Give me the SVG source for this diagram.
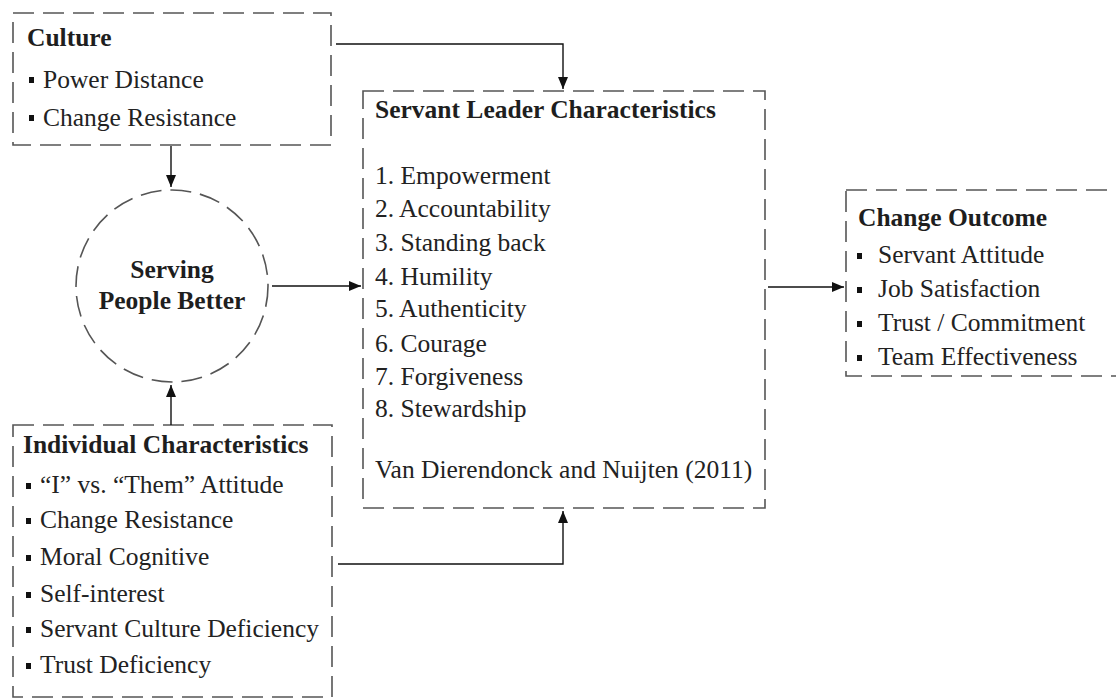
<svg xmlns="http://www.w3.org/2000/svg" width="1116" height="699" viewBox="0 0 1116 699">
  <defs>
    <marker id="arrow" viewBox="0 0 12 10" refX="12" refY="5" markerWidth="12" markerHeight="10" markerUnits="userSpaceOnUse" orient="auto">
      <path d="M0,0 L12,5 L0,10 Z" fill="#111"/>
    </marker>
    <style>
      .box { fill: #fff; stroke: #555; stroke-width: 1.6; stroke-dasharray: 21 9; }
      .title { font-family: "Liberation Serif", "Times New Roman", serif; font-weight: bold; font-size: 25.5px; fill: #1e1e1e; }
      .item { font-family: "Liberation Serif", "Times New Roman", serif; font-size: 25.5px; fill: #222; }
      .bullet { fill: #111; }
      .conn { fill: none; stroke: #111; stroke-width: 1.4; marker-end: url(#arrow); }
    </style>
  </defs>

  <rect width="1116" height="699" fill="#fff"/>

  <!-- Culture -->
  <g id="culture">
    <rect class="box" x="13" y="13" width="318" height="132"/>
    <text class="title" x="27" y="46">Culture</text>
    <rect class="bullet" x="29" y="77" width="5" height="6"/>
    <text class="item" x="43" y="88">Power Distance</text>
    <rect class="bullet" x="29" y="115" width="5" height="6"/>
    <text class="item" x="43" y="126">Change Resistance</text>
  </g>

  <!-- Serving People Better -->
  <g id="serving">
    <circle class="box" cx="172" cy="286" r="96"/>
    <text class="title" x="172" y="278" text-anchor="middle">Serving</text>
    <text class="title" x="172" y="309" text-anchor="middle">People Better</text>
  </g>

  <!-- Individual Characteristics -->
  <g id="individual">
    <rect class="box" x="13" y="425" width="319" height="272"/>
    <text class="title" x="23" y="453">Individual Characteristics</text>
    <rect class="bullet" x="26" y="483" width="5" height="6"/>
    <text class="item" x="40" y="493">“I” vs. “Them” Attitude</text>
    <rect class="bullet" x="26" y="518" width="5" height="6"/>
    <text class="item" x="40" y="528">Change Resistance</text>
    <rect class="bullet" x="26" y="555" width="5" height="6"/>
    <text class="item" x="40" y="565">Moral Cognitive</text>
    <rect class="bullet" x="26" y="592" width="5" height="6"/>
    <text class="item" x="40" y="602">Self-interest</text>
    <rect class="bullet" x="26" y="627" width="5" height="6"/>
    <text class="item" x="40" y="637">Servant Culture Deficiency</text>
    <rect class="bullet" x="26" y="663" width="5" height="6"/>
    <text class="item" x="40" y="673">Trust Deficiency</text>
  </g>

  <!-- Servant Leader Characteristics -->
  <g id="servant-leader">
    <rect class="box" x="363" y="91" width="402" height="417"/>
    <text class="title" x="375" y="118">Servant Leader Characteristics</text>
    <text class="item" x="375" y="184">1. Empowerment</text>
    <text class="item" x="375" y="217">2. Accountability</text>
    <text class="item" x="375" y="251">3. Standing back</text>
    <text class="item" x="375" y="285">4. Humility</text>
    <text class="item" x="375" y="317">5. Authenticity</text>
    <text class="item" x="375" y="352">6. Courage</text>
    <text class="item" x="375" y="385">7. Forgiveness</text>
    <text class="item" x="375" y="417">8. Stewardship</text>
    <text class="item" x="375" y="478">Van Dierendonck and Nuijten (2011)</text>
  </g>

  <!-- Change Outcome -->
  <g id="change-outcome">
    <rect class="box" x="846" y="190" width="290" height="186"/>
    <text class="title" x="858" y="226">Change Outcome</text>
    <rect class="bullet" x="857" y="253" width="5" height="6"/>
    <text class="item" x="878" y="263">Servant Attitude</text>
    <rect class="bullet" x="857" y="287" width="5" height="6"/>
    <text class="item" x="878" y="297">Job Satisfaction</text>
    <rect class="bullet" x="857" y="321" width="5" height="6"/>
    <text class="item" x="878" y="331">Trust / Commitment</text>
    <rect class="bullet" x="857" y="355" width="5" height="6"/>
    <text class="item" x="878" y="365">Team Effectiveness</text>
  </g>

  <!-- Connectors -->
  <g id="connectors">
    <path class="conn" d="M171,146 V187"/>
    <path class="conn" d="M171,425 V385"/>
    <path class="conn" d="M272,286 H361"/>
    <path class="conn" d="M336,44 H563 V89"/>
    <path class="conn" d="M338,564 H563 V511"/>
    <path class="conn" d="M768,287 H844"/>
  </g>
</svg>
